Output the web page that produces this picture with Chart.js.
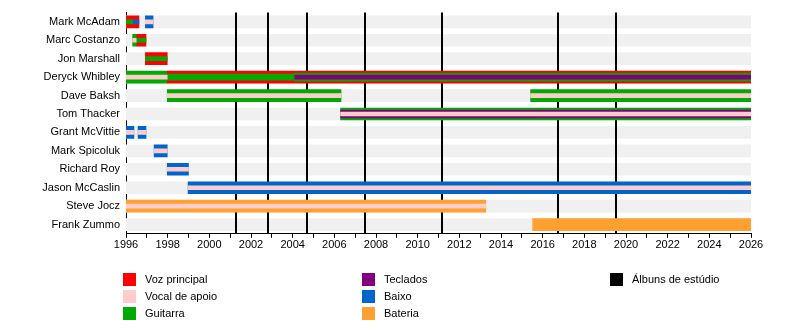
<!DOCTYPE html>
<html>
<head>
<meta charset="utf-8">
<script src="https://cdn.jsdelivr.net/npm/chart.js@4.4.0/dist/chart.umd.min.js"></script>
<style>
  body{margin:0;background:#fff;font-family:"Liberation Sans",Arial,sans-serif;}
  #wrap{position:relative;width:800px;height:330px;}
  #wrap canvas{position:absolute;left:0;top:0;}
  .leg{position:absolute;font-size:11px;color:#000;line-height:13px;white-space:nowrap;padding-left:22px;}
  .leg i{position:absolute;left:0;top:0;width:13px;height:13px;}
</style>
</head>
<body>
<div id="wrap">
  <canvas id="chart" width="800" height="330"></canvas>
</div>
<script>
// ----- data -----
const members = ["Mark McAdam","Marc Costanzo","Jon Marshall","Deryck Whibley","Dave Baksh","Tom Thacker",
  "Grant McVittie","Mark Spicoluk","Richard Roy","Jason McCaslin","Steve Jocz","Frank Zummo"];
const yearMin = 1996, yearMax = 2026;
const albums = [2001.29, 2002.83, 2004.7, 2007.49, 2011.19, 2016.72, 2019.51];

const roleColors = {
  vocals:"#ff0000", backing:"#ffcccc", guitar:"#00aa00", keys:"#800080",
  bass:"#0066cc", drums:"#ffa030", albums:"#000000"
};
const legendItems = [
  ["vocals","Voz principal"],["backing","Vocal de apoio"],["guitar","Guitarra"],
  ["keys","Teclados"],["bass","Baixo"],["drums","Bateria"],["albums","Álbuns de estúdio"]
];

// [member, from, to, role]
const mainBars = [
  ["Mark McAdam",1996,1996.62,"vocals"],
  ["Mark McAdam",1996.93,1997.3,"bass"],
  ["Marc Costanzo",1996.32,1996.52,"guitar"],
  ["Marc Costanzo",1996.52,1996.96,"vocals"],
  ["Jon Marshall",1996.93,1997.98,"vocals"],
  ["Deryck Whibley",1996,1997.98,"guitar"],
  ["Deryck Whibley",1997.98,2026,"vocals"],
  ["Dave Baksh",1997.98,2006.32,"guitar"],
  ["Dave Baksh",2015.42,2026,"guitar"],
  ["Tom Thacker",2006.3,2026,"guitar"],
  ["Grant McVittie",1996,1996.38,"bass"],
  ["Grant McVittie",1996.58,1996.96,"bass"],
  ["Mark Spicoluk",1997.35,1997.98,"bass"],
  ["Richard Roy",1997.98,1999.0,"bass"],
  ["Jason McCaslin",1998.98,2026,"bass"],
  ["Steve Jocz",1996,2013.27,"drums"],
  ["Frank Zummo",2015.52,2026,"drums"]
];
const wideStripes = [
  ["Deryck Whibley",2004.1,2026,"guitar"],
  ["Tom Thacker",2006.3,2026,"keys"]
];
const midStripes = [
  ["Deryck Whibley",1997.98,2004.1,"guitar"]
];
const coreStripes = [
  ["Mark McAdam",1996,1996.35,"guitar"],
  ["Mark McAdam",1996.35,1996.62,"bass"],
  ["Mark McAdam",1996.93,1997.3,"backing"],
  ["Marc Costanzo",1996.32,1996.52,"backing"],
  ["Marc Costanzo",1996.52,1996.96,"guitar"],
  ["Jon Marshall",1996.93,1997.98,"guitar"],
  ["Deryck Whibley",1996,1997.98,"backing"],
  ["Deryck Whibley",2004.1,2026,"keys"],
  ["Dave Baksh",1997.98,2006.32,"backing"],
  ["Dave Baksh",2015.42,2026,"backing"],
  ["Tom Thacker",2006.3,2026,"backing"],
  ["Grant McVittie",1996,1996.38,"backing"],
  ["Grant McVittie",1996.58,1996.96,"backing"],
  ["Mark Spicoluk",1997.35,1997.98,"backing"],
  ["Richard Roy",1997.98,1999.0,"backing"],
  ["Jason McCaslin",1998.98,2026,"backing"],
  ["Steve Jocz",1996,2013.27,"backing"]
];

// ----- helpers -----
function layer(spans, thickness, order){
  return {
    data: spans.map(s=>({y:s[0], x:[s[1], s[2]]})),
    backgroundColor: spans.map(s=>roleColors[s[3]]),
    barThickness: thickness, order, grouped:false, borderWidth:0, borderSkipped:false
  };
}
const rowBands = {
  data: members.map(m=>({y:m, x:[yearMin, yearMax]})),
  backgroundColor:"#f0f0f0", barThickness:12, order:10, grouped:false, borderWidth:0
};

// album lines drawn right after the row bands, under the bars
const albumLines = {
  id:"albumLines",
  afterDatasetDraw(chart, args){
    if(args.index !== 0) return;
    const {ctx, chartArea:a, scales:{x}} = chart;
    ctx.save();
    ctx.strokeStyle = roleColors.albums; ctx.lineWidth = 2;
    albums.forEach(v=>{
      const px = Math.round(x.getPixelForValue(v));
      ctx.beginPath(); ctx.moveTo(px, a.top); ctx.lineTo(px, a.bottom); ctx.stroke();
    });
    ctx.restore();
  }
};

Chart.defaults.font.family = '"Liberation Sans", Arial, sans-serif';
Chart.defaults.font.size = 11;
Chart.defaults.color = "#000";

new Chart(document.getElementById("chart"), {
  type:"bar",
  data:{
    labels: members,
    datasets:[
      rowBands,
      layer(mainBars, 12, 5),
      layer(wideStripes, 8, 4),
      layer(midStripes, 6, 3),
      layer(coreStripes, 4, 2)
    ]
  },
  options:{
    indexAxis:"y",
    responsive:false,
    animation:false,
    layout:{padding:{top:7, right:49, bottom:77, left:0}},
    plugins:{legend:{display:false}, tooltip:{enabled:false}},
    scales:{
      x:{
        type:"linear", position:"bottom", min:yearMin, max:yearMax,
        ticks:{stepSize:1, autoSkip:false, maxRotation:0, padding:1,
          callback:v=> v%2===0 ? String(v) : ""},
        grid:{drawOnChartArea:false, drawTicks:true, tickLength:4, color:"#000"},
        border:{color:"#000", width:1}
      },
      y:{
        type:"category", offset:true,
        grid:{drawOnChartArea:false, drawTicks:false},
        border:{color:"#000", width:1},
        ticks:{padding:6},
        afterFit(s){ s.width = 126; }
      }
    }
  },
  plugins:[albumLines]
});

// ----- legend -----
const wrap = document.getElementById("wrap");
const legCols = [123, 362, 610], legRows = [273, 290, 307];
legendItems.forEach((it, i)=>{
  const d = document.createElement("div");
  d.className = "leg";
  d.style.left = legCols[Math.floor(i/3)] + "px";
  d.style.top = legRows[i%3] + "px";
  d.innerHTML = `<i style="background:${roleColors[it[0]]}"></i>${it[1]}`;
  wrap.appendChild(d);
});
</script>
</body>
</html>
